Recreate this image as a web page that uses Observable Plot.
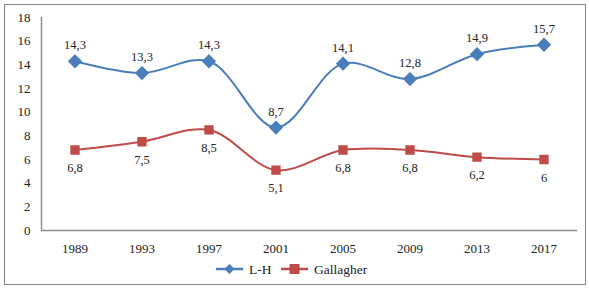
<!DOCTYPE html>
<html><head><meta charset="utf-8">
<script src="https://cdn.jsdelivr.net/npm/d3@7"></script>
<script src="https://cdn.jsdelivr.net/npm/@observablehq/plot@0.6"></script>
<style>
body{margin:0;background:#fff;}
#frame{position:absolute;left:4px;top:4px;width:582px;height:281px;border:1px solid #7f7f7f;box-sizing:border-box;}
#chart{position:absolute;left:0;top:0;}
#legend{position:absolute;left:0;top:258px;}
</style></head><body>
<div id="frame"></div>
<div id="chart"></div>
<div id="legend"></div>
<script>
const years = [1989, 1993, 1997, 2001, 2005, 2009, 2013, 2017];
const lh = [14.3, 13.3, 14.3, 8.7, 14.1, 12.8, 14.9, 15.7];
const gallagher = [6.8, 7.5, 8.5, 5.1, 6.8, 6.8, 6.2, 6];
const lhLabels = ["14,3","13,3","14,3","8,7","14,1","12,8","14,9","15,7"];
const gLabels = ["6,8","7,5","8,5","5,1","6,8","6,8","6,2","6"];
const yTicks = [0,2,4,6,8,10,12,14,16,18];
const seriesNames = ["L-H", "Gallagher"];
const blue = "#4a7ebb", red = "#be4b48";
const FONT = '"Liberation Serif","DejaVu Serif",serif';

const lhData = years.map((y,i)=>({year:y, v:lh[i], label:lhLabels[i]}));
const gData = years.map((y,i)=>({year:y, v:gallagher[i], label:gLabels[i]}));

const chart = Plot.plot({
  width: 589, height: 289,
  marginLeft: 41, marginRight: 12, marginTop: 17, marginBottom: 59,
  style: {fontFamily: FONT, fontSize: "13px", color: "#222", background: "transparent"},
  x: {domain: [1987, 2019], ticks: years, tickFormat: d => String(d), tickSize: 0, tickPadding: 13, label: null},
  y: {domain: [0, 18], ticks: yTicks, tickSize: 0, tickPadding: 11, label: null},
  marks: [
    Plot.ruleY([0], {stroke: "#8c8c8c", strokeWidth: 1.5}),
    Plot.ruleX([1987], {stroke: "#8c8c8c", strokeWidth: 1.5}),
    Plot.line(lhData, {x: "year", y: "v", stroke: blue, strokeWidth: 2, curve: "catmull-rom"}),
    Plot.line(gData, {x: "year", y: "v", stroke: red, strokeWidth: 2, curve: "catmull-rom"}),
    Plot.dot(lhData, {x: "year", y: "v", symbol: "diamond2", fill: blue, r: 5.5, stroke: blue}),
    Plot.dot(gData, {x: "year", y: "v", symbol: "square2", fill: red, r: 5, stroke: red}),
    Plot.text(lhData, {x: "year", y: "v", text: "label", dy: -16, fill: "#222", fontSize: 12.5}),
    Plot.text(gData, {x: "year", y: "v", text: "label", dy: 18, fill: "#222", fontSize: 12.5})
  ]
});
document.getElementById("chart").appendChild(chart);

// legend as SVG with same font
const ns = "http://www.w3.org/2000/svg";
const lsvg = d3.select("#legend").append("svg").attr("width", 589).attr("height", 22)
  .style("font-family", FONT).style("font-size", "13.5px");
const g1 = lsvg.append("g").attr("transform", "translate(216,11)");
g1.append("line").attr("x1",0).attr("x2",27).attr("y1",0).attr("y2",0).attr("stroke",blue).attr("stroke-width",2.5);
g1.append("path").attr("d","M13.5,-5 L18.5,0 L13.5,5 L8.5,0 Z").attr("fill",blue);
g1.append("text").attr("x",33).attr("y",0).attr("dy","0.35em").attr("fill","#222").text(seriesNames[0]);
const g2 = lsvg.append("g").attr("transform", "translate(281,11)");
g2.append("line").attr("x1",0).attr("x2",27).attr("y1",0).attr("y2",0).attr("stroke",red).attr("stroke-width",2.5);
g2.append("rect").attr("x",8.5).attr("y",-5).attr("width",10).attr("height",10).attr("fill",red);
g2.append("text").attr("x",33).attr("y",0).attr("dy","0.35em").attr("fill","#222").text(seriesNames[1]);
</script>
</body></html>
